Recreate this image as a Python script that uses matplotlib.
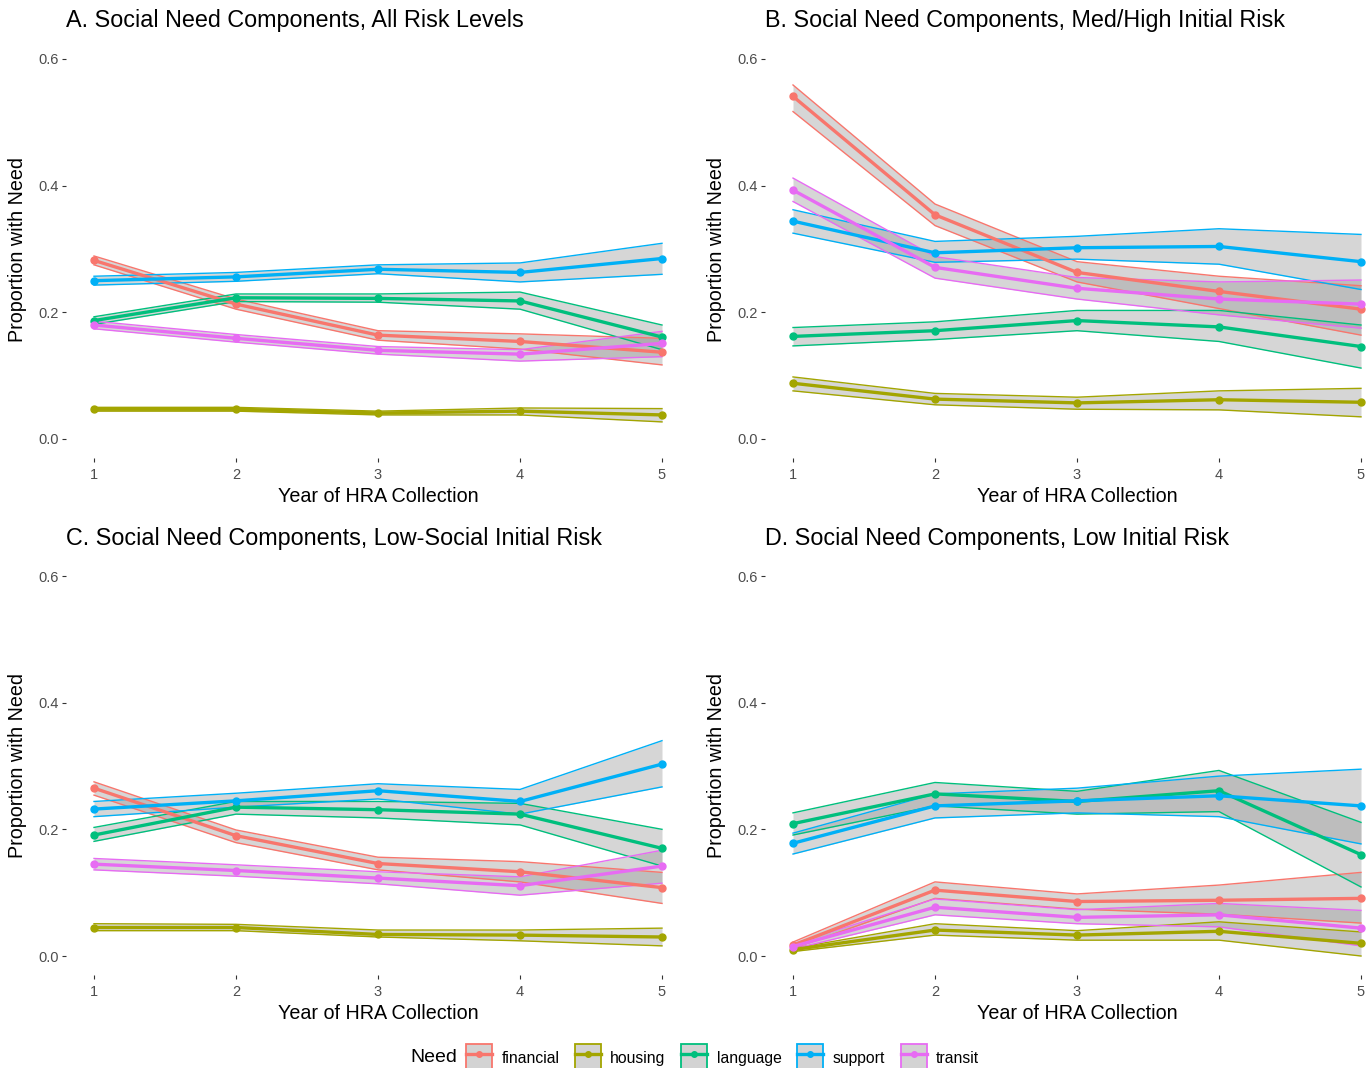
import matplotlib
matplotlib.use('Agg')
import matplotlib.pyplot as plt
from matplotlib.patches import Patch
from matplotlib.lines import Line2D
from matplotlib.legend_handler import HandlerTuple

plt.rcParams['font.family'] = ['Liberation Sans', 'DejaVu Sans']

years = [1, 2, 3, 4, 5]
needs = ['financial', 'housing', 'language', 'support', 'transit']
colors = ['#F8766D', '#A3A500', '#00BF7D', '#00B0F6', '#E76BF3']

titles = [
    'A. Social Need Components, All Risk Levels',
    'B. Social Need Components, Med/High Initial Risk',
    'C. Social Need Components, Low-Social Initial Risk',
    'D. Social Need Components, Low Initial Risk',
]

# rows follow `needs`: financial, housing, language, support, transit
a_mean = [[0.282, 0.213, 0.164, 0.154, 0.137],
          [0.047, 0.047, 0.041, 0.044, 0.038],
          [0.187, 0.223, 0.222, 0.218, 0.161],
          [0.250, 0.256, 0.268, 0.263, 0.285],
          [0.180, 0.159, 0.140, 0.134, 0.151]]
a_lo = [[0.275, 0.205, 0.156, 0.142, 0.117],
        [0.044, 0.044, 0.038, 0.038, 0.027],
        [0.181, 0.217, 0.216, 0.205, 0.141],
        [0.243, 0.249, 0.261, 0.248, 0.260],
        [0.174, 0.153, 0.134, 0.123, 0.130]]
a_hi = [[0.289, 0.221, 0.171, 0.166, 0.159],
        [0.050, 0.050, 0.044, 0.049, 0.048],
        [0.193, 0.229, 0.229, 0.232, 0.180],
        [0.257, 0.263, 0.275, 0.278, 0.309],
        [0.186, 0.165, 0.146, 0.141, 0.170]]

b_mean = [[0.541, 0.354, 0.263, 0.233, 0.205],
          [0.088, 0.063, 0.057, 0.062, 0.058],
          [0.162, 0.171, 0.187, 0.177, 0.146],
          [0.344, 0.294, 0.302, 0.304, 0.280],
          [0.393, 0.271, 0.238, 0.221, 0.213]]
b_lo = [[0.517, 0.337, 0.248, 0.206, 0.164],
        [0.076, 0.054, 0.047, 0.046, 0.035],
        [0.147, 0.157, 0.171, 0.154, 0.112],
        [0.325, 0.279, 0.284, 0.276, 0.236],
        [0.375, 0.254, 0.221, 0.196, 0.175]]
b_hi = [[0.559, 0.371, 0.280, 0.257, 0.242],
        [0.098, 0.072, 0.066, 0.076, 0.080],
        [0.176, 0.185, 0.203, 0.203, 0.180],
        [0.362, 0.312, 0.320, 0.332, 0.323],
        [0.412, 0.288, 0.255, 0.248, 0.251]]

c_mean = [[0.265, 0.190, 0.146, 0.133, 0.108],
          [0.045, 0.045, 0.034, 0.033, 0.030],
          [0.191, 0.235, 0.231, 0.224, 0.170],
          [0.232, 0.245, 0.261, 0.244, 0.303],
          [0.145, 0.135, 0.123, 0.111, 0.142]]
c_lo = [[0.254, 0.179, 0.136, 0.117, 0.083],
        [0.040, 0.040, 0.030, 0.024, 0.016],
        [0.181, 0.224, 0.218, 0.207, 0.142],
        [0.220, 0.235, 0.248, 0.224, 0.267],
        [0.136, 0.126, 0.114, 0.096, 0.115]]
c_hi = [[0.275, 0.199, 0.156, 0.149, 0.132],
        [0.051, 0.050, 0.041, 0.041, 0.044],
        [0.203, 0.244, 0.244, 0.241, 0.200],
        [0.244, 0.257, 0.272, 0.263, 0.340],
        [0.154, 0.144, 0.133, 0.125, 0.167]]

d_mean = [[0.017, 0.104, 0.086, 0.088, 0.091],
          [0.010, 0.041, 0.033, 0.039, 0.020],
          [0.209, 0.256, 0.244, 0.261, 0.160],
          [0.178, 0.237, 0.245, 0.253, 0.237],
          [0.015, 0.077, 0.061, 0.065, 0.044]]
d_lo = [[0.012, 0.091, 0.074, 0.066, 0.052],
        [0.007, 0.033, 0.025, 0.025, 0.000],
        [0.191, 0.237, 0.224, 0.228, 0.109],
        [0.161, 0.218, 0.226, 0.220, 0.177],
        [0.011, 0.065, 0.051, 0.046, 0.016]]
d_hi = [[0.022, 0.117, 0.098, 0.112, 0.132],
        [0.012, 0.051, 0.040, 0.054, 0.038],
        [0.226, 0.274, 0.260, 0.293, 0.211],
        [0.194, 0.256, 0.265, 0.284, 0.295],
        [0.019, 0.090, 0.073, 0.083, 0.072]]

panels = [(a_mean, a_lo, a_hi), (b_mean, b_lo, b_hi),
          (c_mean, c_lo, c_hi), (d_mean, d_lo, d_hi)]

W, H = 1368, 1068
fig = plt.figure(figsize=(W/100, H/100), dpi=100)

# panel boxes in pixels: (left, top)
pw, ph = 624.8, 418
boxes = [(65.6, 40), (764.6, 40), (65.6, 557), (764.6, 557)]
band_fill = '#999999'

for k, (mean, lo, hi) in enumerate(panels):
    x0, y0 = boxes[k]
    ax = fig.add_axes([x0/W, 1 - (y0+ph)/H, pw/W, ph/H])
    for i in range(len(needs)):
        ax.fill_between(years, lo[i], hi[i], color=band_fill, alpha=0.4,
                        lw=0, zorder=1)
        ax.plot(years, lo[i], c=colors[i], lw=1.0, zorder=2)
        ax.plot(years, hi[i], c=colors[i], lw=1.0, zorder=2)
    for i in range(len(needs)):
        ax.plot(years, mean[i], c=colors[i], lw=2.4, zorder=3,
                marker='o', ms=5, solid_capstyle='butt')
    ax.set_xlim(0.8, 5.2)
    ax.set_ylim(-0.03, 0.63)
    ax.set_xticks(years)
    ax.set_yticks([0.0, 0.2, 0.4, 0.6])
    ax.set_yticklabels(['0.0', '0.2', '0.4', '0.6'])
    for s in ax.spines.values():
        s.set_visible(False)
    ax.tick_params(labelsize=10.5, labelcolor='#4D4D4D', color='#333333',
                   length=3, width=0.8)
    ax.tick_params(axis='x', pad=4)
    ax.tick_params(axis='y', pad=2)
    ax.set_xlabel('Year of HRA Collection', fontsize=14.2, labelpad=4)
    ax.set_ylabel('Proportion with Need', fontsize=14.2, labelpad=8)
    ax.set_title(titles[k], loc='left', fontsize=16.8, pad=9)

# legend
handles = []
for i in range(len(needs)):
    p = Patch(facecolor='#D3D3D3', edgecolor=colors[i], lw=1.3)
    l = Line2D([], [], c=colors[i], lw=2.4, marker='o', ms=4)
    handles.append((p, l))
fig.text(410/W, 1 - 1058/H, 'Need', fontsize=14, ha='left', va='center')
fig.legend(handles, needs,
           handler_map={tuple: HandlerTuple(ndivide=1, pad=0)},
           loc='center left', bbox_to_anchor=(466/W, 1 - 1058/H),
           ncol=5, frameon=False, fontsize=11.3, handlelength=1.65,
           handleheight=2.3, handletextpad=0.6, columnspacing=1.0,
           borderpad=0, borderaxespad=0)

fig.savefig('out.png', dpi=100, facecolor='white')
